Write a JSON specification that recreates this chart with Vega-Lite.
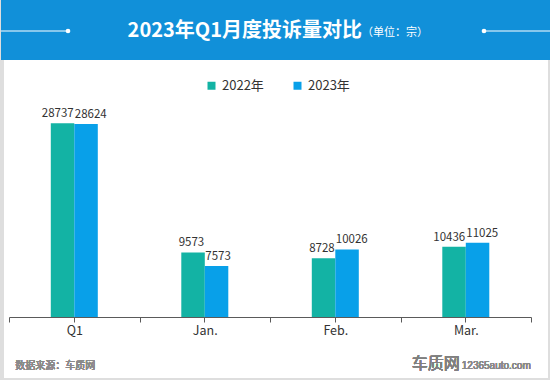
{
  "$schema": "https://vega.github.io/schema/vega-lite/v6.json",
  "background": "#dedede",
  "padding": {"left": 0, "top": 0, "right": 0, "bottom": 2},
  "config": {"font": "Noto Sans CJK SC", "view": {"stroke": null}},
  "vconcat": [
    {
      "width": 550,
      "height": 60,
      "view": {"fill": "#1190D9", "stroke": null},
      "data": {"values": [{"title": "2023年Q1月度投诉量对比", "unit": "（单位：宗）", "lx0": 0, "lx1": 67, "rx0": 483, "rx1": 550, "ly": 31}]},
      "layer": [
        {
          "mark": {"type": "text", "align": "right", "baseline": "middle", "fontSize": 20, "fontWeight": "bold", "color": "white", "dx": 86, "dy": 1},
          "encoding": {"text": {"field": "title"}}
        },
        {
          "mark": {"type": "text", "align": "left", "baseline": "middle", "fontSize": 11, "color": "white", "dx": 86, "dy": 3},
          "encoding": {"text": {"field": "unit"}}
        },
        {
          "mark": {"type": "rule", "color": "white", "strokeWidth": 1},
          "encoding": {
            "x": {"field": "lx0", "type": "quantitative", "scale": {"domain": [0, 550], "nice": false}, "axis": null},
            "x2": {"field": "lx1"},
            "y": {"field": "ly", "type": "quantitative", "scale": {"domain": [60, 0], "nice": false}, "axis": null}
          }
        },
        {
          "mark": {"type": "rule", "color": "white", "strokeWidth": 1},
          "encoding": {
            "x": {"field": "rx0", "type": "quantitative"},
            "x2": {"field": "rx1"},
            "y": {"field": "ly", "type": "quantitative"}
          }
        },
        {
          "mark": {"type": "point", "filled": true, "color": "white", "size": 22, "opacity": 1},
          "encoding": {
            "x": {"field": "lx1", "type": "quantitative"},
            "y": {"field": "ly", "type": "quantitative"}
          }
        },
        {
          "mark": {"type": "point", "filled": true, "color": "white", "size": 22, "opacity": 1},
          "encoding": {
            "x": {"field": "rx0", "type": "quantitative"},
            "y": {"field": "ly", "type": "quantitative"}
          }
        }
      ]
    },
    {
      "width": 544,
      "height": 318,
      "view": {"fill": "white", "stroke": null},
      "data": {"values": [
        {"month": "Q1", "year": "2022年", "value": 28737},
        {"month": "Q1", "year": "2023年", "value": 28624},
        {"month": "Jan.", "year": "2022年", "value": 9573},
        {"month": "Jan.", "year": "2023年", "value": 7573},
        {"month": "Feb.", "year": "2022年", "value": 8728},
        {"month": "Feb.", "year": "2023年", "value": 10026},
        {"month": "Mar.", "year": "2022年", "value": 10436},
        {"month": "Mar.", "year": "2023年", "value": 11025}
      ]},
      "resolve": {"axis": {"x": "independent"}},
      "layer": [
        {
          "mark": {"type": "bar"},
          "encoding": {
            "x": {"field": "month", "type": "nominal", "sort": null,
              "scale": {"range": [5, 527], "paddingInner": 0, "paddingOuter": 0},
              "axis": {"orient": "bottom", "offset": -61, "title": null, "labelAngle": 0, "tickBand": "extent",
                "domainColor": "#5a5a5a", "tickColor": "#5a5a5a", "tickSize": 5, "labelColor": "#333333",
                "labelFontSize": 12.5, "labelPadding": 2, "labelFont": "Noto Sans CJK SC"}},
            "xOffset": {"field": "year", "type": "nominal", "scale": {"range": [41.8, 88.8], "paddingInner": 0, "paddingOuter": 0}},
            "y": {"field": "value", "type": "quantitative", "scale": {"domain": [0, 38140], "range": [257, 0], "nice": false, "zero": true}, "axis": null},
            "color": {"field": "year", "type": "nominal",
              "scale": {"domain": ["2022年", "2023年"], "range": ["#13B3A4", "#08A0E9"]},
              "legend": {"orient": "none", "legendX": 204, "legendY": 79, "direction": "horizontal", "title": null,
                "symbolType": "square", "symbolSize": 64, "symbolStrokeWidth": 0, "labelFontSize": 13, "labelColor": "#333333",
                "columnPadding": 27, "labelOffset": 4}}
          }
        },
        {
          "transform": [{"filter": "datum.year === '2022年'"}],
          "mark": {"type": "text", "align": "right", "baseline": "middle", "dx": -0.5, "dy": -9, "fontSize": 11.5, "color": "#333333"},
          "encoding": {
            "x": {"field": "month", "type": "nominal", "sort": null,
              "axis": {"orient": "bottom", "offset": -61, "title": null, "labels": false, "domain": false, "tickColor": "#5a5a5a", "tickSize": 5}},
            "y": {"field": "value", "type": "quantitative"},
            "text": {"field": "value", "type": "quantitative", "format": "d"}
          }
        },
        {
          "transform": [{"filter": "datum.year === '2023年'"}],
          "mark": {"type": "text", "align": "left", "baseline": "middle", "dx": 0.5, "dy": -9, "fontSize": 11.5, "color": "#333333"},
          "encoding": {
            "x": {"field": "month", "type": "nominal", "sort": null, "axis": null},
            "y": {"field": "value", "type": "quantitative"},
            "text": {"field": "value", "type": "quantitative", "format": "d"}
          }
        },
        {
          "mark": {"type": "text", "align": "left", "baseline": "middle", "dx": -59, "fontSize": 10, "color": "#8a8a8a"},
          "encoding": {
            "x": {"datum": "Q1", "type": "nominal", "axis": null},
            "y": {"datum": -7280, "type": "quantitative"},
            "text": {"value": "数据来源：车质网"}
          }
        },
        {
          "mark": {"type": "text", "align": "right", "baseline": "middle", "dx": -6, "dy": -2, "fontSize": 16, "color": "#808080"},
          "encoding": {
            "x": {"datum": "Mar.", "type": "nominal", "axis": null},
            "y": {"datum": -7280, "type": "quantitative"},
            "text": {"value": "车质网"}
          }
        },
        {
          "mark": {"type": "text", "align": "right", "baseline": "middle", "dx": 65, "fontSize": 10, "color": "#8a8a8a", "font": "Liberation Sans"},
          "encoding": {
            "x": {"datum": "Mar.", "type": "nominal", "axis": null},
            "y": {"datum": -7280, "type": "quantitative"},
            "text": {"value": "12365auto.com"}
          }
        }
      ]
    }
  ],
  "spacing": 0,
  "bounds": "flush",
  "center": true
}
